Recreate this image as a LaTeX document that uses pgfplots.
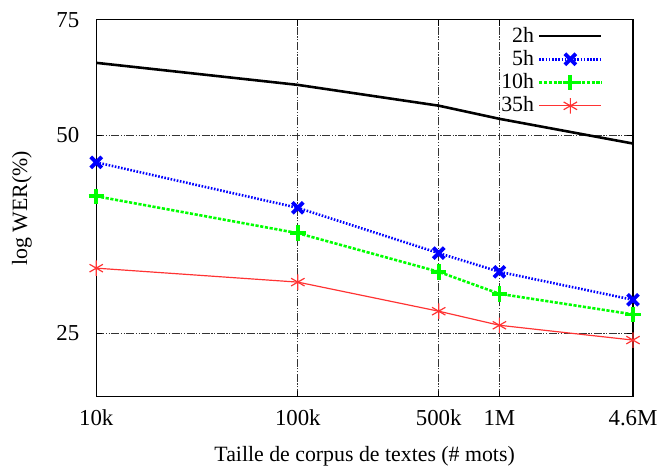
\documentclass[border=0pt]{standalone}
\usepackage{pgfplots}
\pgfplotsset{compat=1.18}
\usepackage{fontspec}
\setmainfont{Liberation Serif}
\begin{document}
\begin{tikzpicture}
\begin{axis}[
  scale only axis,
  width=270.5pt, height=190pt,
  xmode=log, ymode=log,
  xmin=10000, xmax=4600000,
  ymin=20, ymax=75,
  xtick={10000,100000,500000,1000000,4600000},
  xticklabels={10k,100k,500k,1M,4.6M},
  ytick={25,50,75},
  yticklabels={25,50,75},
  minor xtick={}, minor ytick={},
  xminorticks=false, yminorticks=false,
  tick align=inside,
  major tick length=3pt,
  tick style={black, line width=0.4pt},
  xticklabel style={anchor=center, yshift=-10.5pt},
  yticklabel style={anchor=east, xshift=-5pt},
  /pgf/number format/assume math mode=true,
  ticklabel style={font=\fontsize{11.5}{13}\selectfont},
  label style={font=\fontsize{11}{13}\selectfont},
  xlabel={Taille de corpus de textes (\# mots)},
  ylabel={log WER(\%)},
  xlabel style={at={(axis description cs:0.5,-0.158)}, anchor=center},
  ylabel style={at={(axis description cs:-0.1386,0.5)}, anchor=center},
  grid=major,
  major grid style={black!80, line width=0.4pt, dash pattern=on 4pt off 0.8pt on 0.6pt off 0.8pt on 0.6pt off 0.8pt},
  axis line style={black, line width=0.6pt},
  legend style={draw=none, fill=none, at={(0.948,0.998)}, anchor=north east,
    font=\fontsize{11}{13}\selectfont, row sep=-1.4pt, inner sep=1pt},
  legend cell align=right,
  legend plot pos=right,
  legend image code/.code={
    \draw[mark repeat=2,mark phase=2] plot coordinates {(0cm,0cm) (0.55cm,0cm) (1.1cm,0cm)};
  },
]
\addplot[black, line width=1.3pt, mark=none] coordinates {
  (10000,64.5) (100000,59.7) (500000,55.5) (1000000,53.0) (4600000,48.6)};
\addlegendentry{2h}
\addplot[blue, line width=1.3pt, dash pattern=on 0.8pt off 0.8pt, mark=x, mark size=3.9pt,
  mark options={solid, line width=1.9pt}] coordinates {
  (10000,45.5) (100000,38.8) (500000,33.1) (1000000,31.0) (4600000,28.1)};
\addlegendentry{5h}
\addplot[green, line width=1.3pt, dash pattern=on 1.6pt off 0.8pt, mark=+, mark size=3.9pt,
  mark options={solid, line width=1.9pt}] coordinates {
  (10000,40.4) (100000,35.5) (500000,31.0) (1000000,28.7) (4600000,26.7)};
\addlegendentry{10h}
\addplot[red!80!white, line width=0.6pt, mark=asterisk, mark size=3.9pt,
  mark options={solid, line width=0.6pt}] coordinates {
  (10000,31.4) (100000,29.9) (500000,27.0) (1000000,25.7) (4600000,24.4)};
\addlegendentry{35h}
\end{axis}
\path[use as bounding box] ([shift={(-48.5pt,-35.5pt)}]current axis.south west) rectangle ([shift={(13pt,10pt)}]current axis.north east);
\end{tikzpicture}
\end{document}
